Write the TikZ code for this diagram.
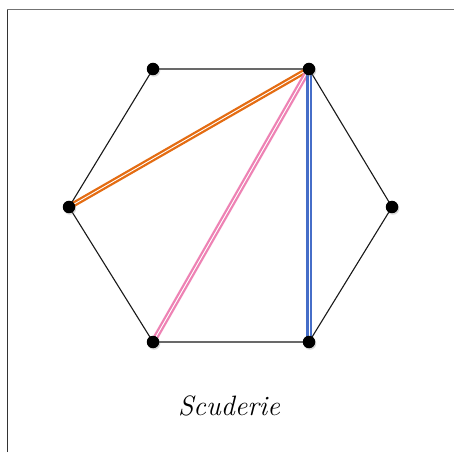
\documentclass[tikz,border=0pt]{standalone}
\usetikzlibrary{shadows}
\definecolor{orng}{RGB}{228,108,18}
\definecolor{pnk}{RGB}{238,130,180}
\definecolor{blu}{RGB}{70,110,200}
\tikzset{
  vtx/.style={circle,fill=black,inner sep=0pt,minimum size=12.5pt,
    drop shadow={shadow xshift=1pt,shadow yshift=-1.5pt,opacity=0.3}},
  edge/.style={draw=black!90,line width=1.1pt},
  diag/.style={line width=2.3pt,double=white,double distance=0.9pt},
  frame/.style={line width=1pt}
}
\begin{document}
\begin{tikzpicture}[x=1pt,y=1pt]
\useasboundingbox (0,0) rectangle (454,452);
\fill[white] (0,0) rectangle (454,452);
\coordinate (fa) at (7,0);
\coordinate (fb) at (7,442);
\coordinate (fc) at (454,442);
\draw[frame,black!80] (fa) -- (fb);
\draw[frame,black!55] (fb) -- (fc);
% vertices
\coordinate (TL) at (153,383);
\coordinate (TR) at (309,383);
\coordinate (L) at (69,245);
\coordinate (R) at (392,245);
\coordinate (BL) at (153,110);
\coordinate (BR) at (309,110);
\draw[edge] (TL) -- (TR) -- (R) -- (BR) -- (BL) -- (L) -- cycle;
\draw[diag,draw=orng] (L) -- (TR);
\draw[diag,draw=pnk] (BL) -- (TR);
\draw[diag,draw=blu] (BR) -- (TR);
\foreach \p in {TL,TR,L,R,BL,BR}
  \node[vtx] (n\p) at (\p) {};
\node (title) at (229,46) {\fontsize{28}{32}\selectfont\itshape Scuderie};
\end{tikzpicture}
\end{document}
